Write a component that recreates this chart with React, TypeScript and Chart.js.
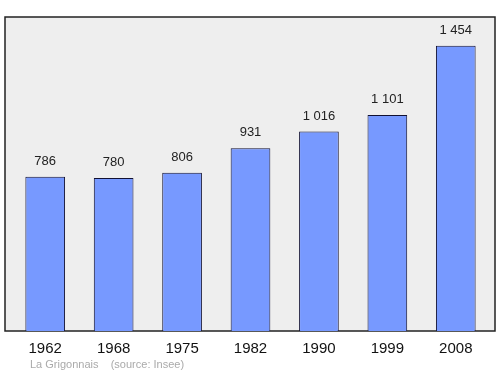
import React, { useEffect, useRef } from "react";
import { Chart, registerables } from "chart.js";

Chart.register(...registerables);

const years = ["1962", "1968", "1975", "1982", "1990", "1999", "2008"];
const population = [786, 780, 806, 931, 1016, 1101, 1454];
const valueLabels = ["786", "780", "806", "931", "1 016", "1 101", "1 454"];
const sourceText = "La Grigonnais    (source: Insee)";

const framePlugin = {
  id: "frame",
  beforeDraw(chart: any) {
    const { ctx, chartArea } = chart;
    const l = chartArea.left - 6;
    const r = chartArea.right + 5;
    const t = chartArea.top;
    const b = chartArea.bottom;
    ctx.save();
    ctx.fillStyle = "#eeeeee";
    ctx.fillRect(l, t, r - l, b - t);
    ctx.strokeStyle = "#222222";
    ctx.lineWidth = 1.5;
    ctx.strokeRect(l, t, r - l, b - t);
    ctx.restore();
  },
  afterDatasetsDraw(chart: any) {
    const { ctx } = chart;
    const meta = chart.getDatasetMeta(0);
    ctx.save();
    ctx.fillStyle = "#222222";
    ctx.font = "13px 'Liberation Sans', Arial, sans-serif";
    ctx.textAlign = "center";
    ctx.textBaseline = "bottom";
    meta.data.forEach((bar: any, i: number) => {
      ctx.fillText(valueLabels[i], bar.x, bar.y - 9);
    });
    ctx.font = "11px 'Liberation Sans', Arial, sans-serif";
    ctx.fillStyle = "#aaaaaa";
    ctx.textAlign = "left";
    ctx.textBaseline = "middle";
    ctx.fillText(sourceText, 30, 365);
    ctx.restore();
  },
};

export default function App() {
  const ref = useRef<HTMLCanvasElement>(null);
  useEffect(() => {
    document.body.style.margin = "0";
    const chart = new Chart(ref.current!, {
      type: "bar",
      data: {
        labels: years,
        datasets: [
          {
            data: population,
            backgroundColor: "#7799ff",
            borderColor: "#111133",
            borderWidth: 1,
            barPercentage: 0.58,
            categoryPercentage: 1,
          },
        ],
      },
      options: {
        animation: false,
        responsive: false,
        maintainAspectRatio: false,
        layout: { padding: { top: 17, left: 11, right: 10, bottom: 15 } },
        plugins: { legend: { display: false }, tooltip: { enabled: false } },
        scales: {
          x: {
            grid: { display: false },
            border: { display: false },
            ticks: {
              color: "#111111",
              padding: 1,
              font: { size: 15, family: "'Liberation Sans', Arial, sans-serif" },
            },
          },
          y: { display: false, min: 0, max: 1600 },
        },
      },
      plugins: [framePlugin],
    });
    return () => chart.destroy();
  }, []);
  return <canvas ref={ref} width={500} height={374} style={{ display: "block" }} />;
}
